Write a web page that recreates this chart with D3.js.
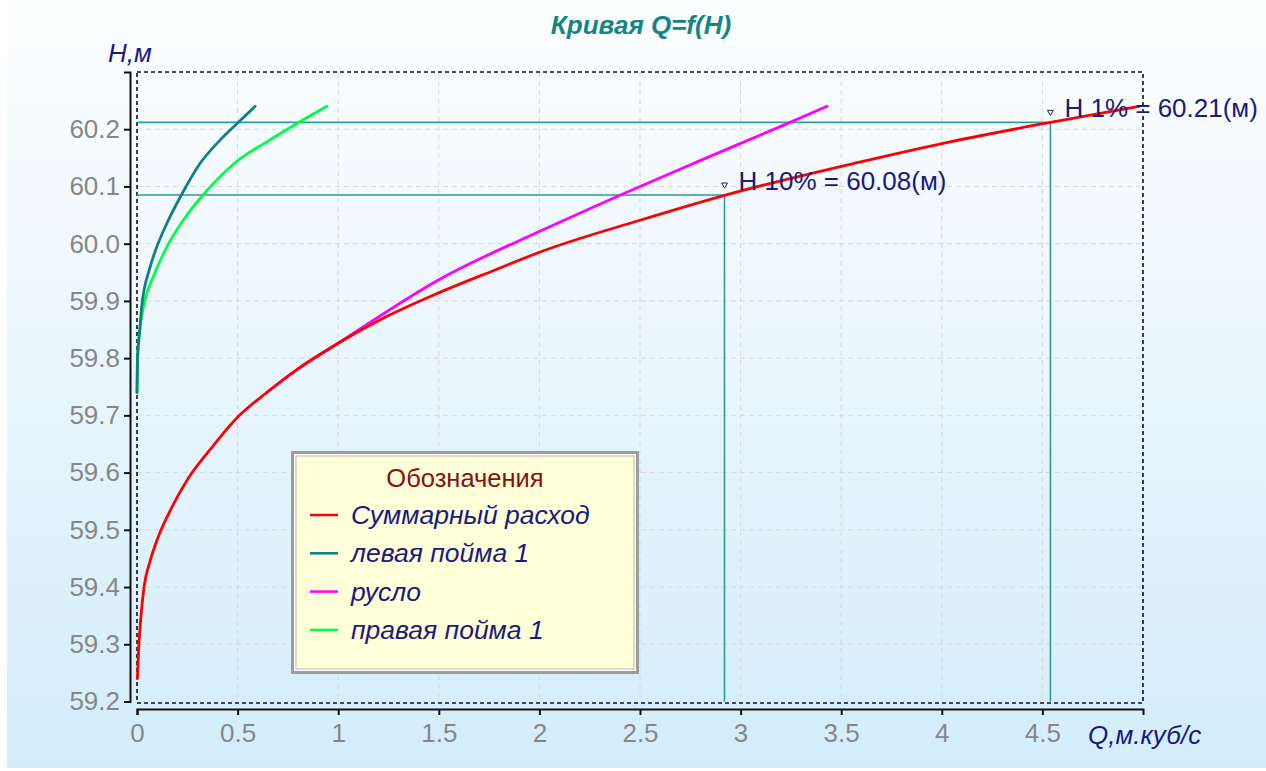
<!DOCTYPE html>
<html><head><meta charset="utf-8">
<script src="https://cdn.jsdelivr.net/npm/d3@7/dist/d3.min.js"></script>
<style>
html,body{margin:0;padding:0;background:#fff;}
svg{display:block;font-family:"Liberation Sans",Arial,sans-serif;}
</style></head>
<body>
<svg id="chart" width="1266" height="771"></svg>
<script>
// ---- data ----
const totalQ = [0.002, 0.008, 0.020, 0.035, 0.065, 0.105, 0.170, 0.255, 0.363, 0.495, 0.645, 0.795, 1.000, 1.209, 1.500, 1.786, 2.000, 2.500, 2.925, 3.597, 4.000, 4.540, 4.980];
const totalH = [59.240, 59.290, 59.350, 59.400, 59.445, 59.487, 59.537, 59.590, 59.640, 59.695, 59.740, 59.780, 59.826, 59.867, 59.914, 59.955, 59.985, 60.041, 60.085, 60.143, 60.175, 60.212, 60.240];

const leftQ = [0.000, 0.002, 0.015, 0.023, 0.065, 0.098, 0.156, 0.222, 0.313, 0.413, 0.504, 0.587];
const leftH = [59.740, 59.796, 59.854, 59.889, 59.959, 59.994, 60.041, 60.086, 60.140, 60.181, 60.212, 60.240];

const channelQ = [0.645, 0.795, 1.000, 1.126, 1.500, 2.005, 2.500, 2.784, 3.220, 3.430];
const channelH = [59.740, 59.780, 59.826, 59.855, 59.937, 60.022, 60.100, 60.143, 60.208, 60.240];

const rightQ = [0.000, 0.003, 0.012, 0.040, 0.081, 0.148, 0.230, 0.330, 0.413, 0.496, 0.645, 0.795, 0.944];
const rightH = [59.740, 59.796, 59.840, 59.901, 59.942, 59.994, 60.041, 60.086, 60.117, 60.144, 60.178, 60.210, 60.240];

const seriesNames = ["Суммарный расход", "левая пойма 1", "русло", "правая пойма 1"];
const seriesColors = ["#ff0000", "#0e8080", "#ff00ff", "#00ff44"];

const xTicks = [0, 0.5, 1, 1.5, 2, 2.5, 3, 3.5, 4, 4.5];
const yTicks = [59.2, 59.3, 59.4, 59.5, 59.6, 59.7, 59.8, 59.9, 60.0, 60.1, 60.2];

const annoQ = [2.92, 4.54];
const annoH = [60.085, 60.212];
const annoText = ["Н 10% = 60.08(м)", "Н 1% = 60.21(м)"];

const titleText = "Кривая Q=f(H)";
const yLabel = "Н,м";
const xLabel = "Q,м.куб/с";
const legendTitle = "Обозначения";

// ---- layout ----
const svg = d3.select("#chart");
const L = 137, R = 1143, T = 72, B = 701.5;
const x = d3.scaleLinear().domain([0, 5]).range([L, R]);
const y = d3.scaleLinear().domain([59.2, 60.3]).range([B, T]);

// background
const defs = svg.append("defs");
const grad = defs.append("linearGradient").attr("id", "bg").attr("x1", 0).attr("y1", 0).attr("x2", 0).attr("y2", 1);
grad.append("stop").attr("offset", "0%").attr("stop-color", "#fdfeff");
grad.append("stop").attr("offset", "100%").attr("stop-color", "#d3edfb");
svg.append("rect").attr("x", 7).attr("y", 0).attr("width", 1259).attr("height", 768).attr("fill", "url(#bg)");

// grid
const grid = svg.append("g").attr("stroke", "#dcd6d8").attr("stroke-width", 1).attr("stroke-dasharray", "5,4");
grid.selectAll("line.v").data(xTicks.filter(d => d > 0)).join("line")
  .attr("x1", d => x(d)).attr("x2", d => x(d)).attr("y1", T).attr("y2", B);
grid.selectAll("line.h").data(yTicks.filter(d => d > 59.2)).join("line")
  .attr("x1", L).attr("x2", R).attr("y1", d => y(d)).attr("y2", d => y(d));

// plot border (dashed)
svg.append("rect").attr("x", L).attr("y", T).attr("width", R - L).attr("height", B - T + 1.5)
  .attr("fill", "none").attr("stroke", "#111").attr("stroke-width", 1.6).attr("stroke-dasharray", "4,3");

// axes
const yAxis = d3.axisLeft(y).tickValues(yTicks).tickFormat(d3.format(".1f")).tickSize(6).tickSizeOuter(6).tickPadding(4);
const gy = svg.append("g").attr("transform", "translate(130,0)").call(yAxis);
const xAxis = d3.axisBottom(x).tickValues(xTicks).tickFormat(d3.format("~g")).tickSize(6).tickSizeOuter(6).tickPadding(5);
const gx = svg.append("g").attr("transform", "translate(0,709)").call(xAxis);
[gx, gy].forEach(g => {
  g.select(".domain").attr("stroke", "#111").attr("stroke-width", 2);
  g.selectAll(".tick line").attr("stroke", "#111").attr("stroke-width", 2);
  g.selectAll(".tick text").attr("fill", "#878787").attr("font-size", 26)
    .attr("font-family", "'Liberation Sans',Arial,sans-serif");
});
gx.selectAll(".tick text").attr("dy", "0.85em");

// annotation lines
const ann = svg.append("g");
annoQ.forEach((q, i) => {
  ann.append("path")
    .attr("d", `M${L},${y(annoH[i])}H${x(q)}V${B}`)
    .attr("fill", "none").attr("stroke", "#2f9b9b").attr("stroke-width", 1.6);
});

// curves
const line = d3.line().x(d => x(d[0])).y(d => y(d[1])).curve(d3.curveMonotoneX);
const zip = (a, b) => a.map((v, i) => [v, b[i]]);
const series = [zip(totalQ, totalH), zip(leftQ, leftH), zip(channelQ, channelH), zip(rightQ, rightH)];
const drawOrder = [2, 3, 1, 0];
drawOrder.forEach(i => {
  svg.append("path").datum(series[i]).attr("d", line)
    .attr("fill", "none").attr("stroke", seriesColors[i]).attr("stroke-width", 2.8)
    .attr("stroke-linejoin", "round").attr("stroke-linecap", "round");
});

// annotation markers & labels
annoQ.forEach((q, i) => {
  const px = x(q), py = y(annoH[i]);
  ann.append("path")
    .attr("d", `M${px - 3},${py - 12}L${px + 3},${py - 12}L${px},${py - 7}Z`)
    .attr("fill", "#fff").attr("stroke", "#1a1a80").attr("stroke-width", 1);
  svg.append("text").attr("x", px + 14).attr("y", py - 5)
    .attr("fill", "#1a1a80").attr("font-size", 26).text(annoText[i]);
});

// title & axis labels
svg.append("text").attr("x", 641).attr("y", 34).attr("text-anchor", "middle")
  .attr("fill", "#138585").attr("font-size", 26).attr("font-weight", "bold").attr("font-style", "italic")
  .text(titleText);
svg.append("text").attr("x", 108).attr("y", 62).attr("fill", "#1a1a80")
  .attr("font-size", 26).attr("font-style", "italic").text(yLabel);
svg.append("text").attr("x", 1088).attr("y", 744).attr("fill", "#1a1a80")
  .attr("font-size", 26).attr("font-style", "italic").text(xLabel);

// legend
const lg = svg.append("g");
const lx = 291, ly = 451, lw = 348, lh = 223;
lg.append("rect").attr("x", lx + 1.5).attr("y", ly + 1.5).attr("width", lw - 3).attr("height", lh - 3)
  .attr("fill", "#ffffd9").attr("stroke", "#9c9c9c").attr("stroke-width", 3);
lg.append("rect").attr("x", lx + 3.5).attr("y", ly + 3.5).attr("width", lw - 7).attr("height", lh - 7)
  .attr("fill", "none").attr("stroke", "#ffffff").attr("stroke-width", 1);
lg.append("rect").attr("x", lx + 5).attr("y", ly + 5).attr("width", lw - 10).attr("height", lh - 10)
  .attr("fill", "none").attr("stroke", "#b8b8b8").attr("stroke-width", 1);
lg.append("text").attr("x", 465).attr("y", 487).attr("text-anchor", "middle")
  .attr("fill", "#8a1010").attr("font-size", 25.5).text(legendTitle);
seriesNames.forEach((name, i) => {
  const yy = 515 + i * 38.3;
  lg.append("line").attr("x1", 310).attr("x2", 338).attr("y1", yy).attr("y2", yy)
    .attr("stroke", seriesColors[i]).attr("stroke-width", 2.5);
  lg.append("text").attr("x", 351).attr("y", yy + 9).attr("fill", "#1a1a80")
    .attr("font-size", 26.5).attr("font-style", "italic").text(name);
});
</script>
</body></html>
